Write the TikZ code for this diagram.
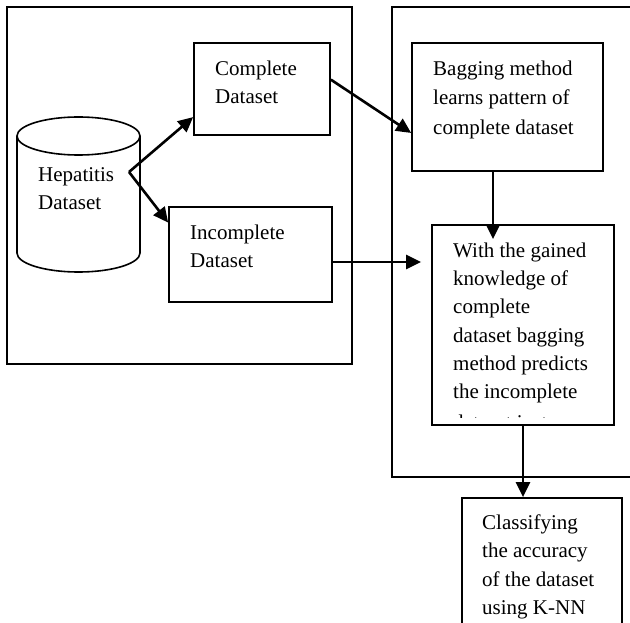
\documentclass[tikz,border=0pt]{standalone}
\usepackage{fontspec}
\setmainfont{Liberation Serif}
\usetikzlibrary{arrows.meta,calc}
\begin{document}
\begin{tikzpicture}[x=1pt,y=-1pt,
  box/.style={draw,line width=1.7pt,rectangle,inner sep=0pt},
  txt/.style={anchor=north west,inner sep=0pt,align=left,font=\fontsize{21}{28.3}\selectfont},
  arr/.style={line width=2.6pt,-{Triangle[length=15pt,width=14pt]}}]
\useasboundingbox (0,0) rectangle (630,623);
\clip (0,0) rectangle (630,623);
% outer boxes
\node[box,minimum width=345pt,minimum height=357pt] (leftouter) at (179.5,185.5) {};
\node[box,minimum width=250pt,minimum height=470pt] (rightouter) at (517,242) {};
% cylinder
\draw[line width=1.6pt] (78.5,136) ellipse [x radius=61.5pt, y radius=19pt];
\draw[line width=1.6pt] (17,136) -- (17,253) arc[start angle=180,end angle=360,x radius=61.5pt,y radius=19pt] -- (140,136);
\node[txt] (hep) at (38,167.5) {Hepatitis\\Dataset};
\coordinate (junc) at (129,172);
% boxes
\node[box,minimum width=136pt,minimum height=92pt] (complete) at (262,89) {};
\node[txt] (completetxt) at (215,60.5) {Complete\\Dataset};
\node[box,minimum width=163pt,minimum height=95pt] (incomplete) at (250.5,254.5) {};
\node[txt] (incompletetxt) at (190,224.5) {Incomplete\\Dataset};
\node[box,minimum width=191pt,minimum height=128pt] (bagging) at (507.5,107) {};
\node[txt,font=\fontsize{21}{29.5}\selectfont] (baggingtxt) at (433,60.5) {Bagging method\\learns pattern of\\complete dataset};
\node[box,minimum width=182pt,minimum height=200pt] (with) at (523,325) {};
\begin{scope}
\clip (433,226) rectangle (613,417.5);
\node[txt] (withtxt) at (453,242.5) {With the gained\\knowledge of\\complete\\dataset bagging\\method predicts\\the incomplete\\[2.5pt]dataset instances};
\end{scope}
\node[box,minimum width=160pt,minimum height=150pt] (classify) at (542,573) {};
\node[txt] (classifytxt) at (482,514.5) {Classifying\\the accuracy\\of the dataset\\using K-NN};
% connectors
\draw[arr] (junc) -- ($(complete.north west)!0.8!(complete.south west)$);
\draw[arr] (junc) -- ($(incomplete.north west)!0.17!(incomplete.south west)$);
\draw[arr] ($(complete.north east)!0.4!(complete.south east)$) -- ($(bagging.north west)!0.7!(bagging.south west)$);
\coordinate (incout) at ([yshift=-7.5pt]incomplete.east);
\coordinate (within) at ([xshift=-10pt]incout -| with.west);
\draw[arr] (incout) -- (within);
\coordinate (bagout) at ([xshift=-14.5pt]bagging.south);
\coordinate (bagin) at ([yshift=-15pt]bagout |- with.north);
\draw[arr] (bagout) -- (bagin);
\draw[arr] (with.south) -- (with.south |- classify.north);
\end{tikzpicture}
\end{document}
